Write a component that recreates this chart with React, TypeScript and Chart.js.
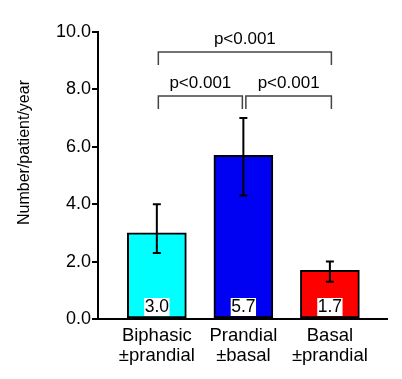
import React, { useEffect, useRef } from "react";
import { Chart, registerables } from "chart.js";

Chart.register(...registerables);

const categories = [["Biphasic", "±prandial"], ["Prandial", "±basal"], ["Basal", "±prandial"]];
const values = [3.0, 5.7, 1.7];
const errLow = [2.3, 4.3, 1.3];
const errHigh = [4.0, 7.0, 2.0];
const barColors = ["#00FFFF", "#0000F2", "#FF0000"];
const valueLabels = ["3.0", "5.7", "1.7"];
const yTicks = [0, 2, 4, 6, 8, 10];
const brackets = [
  { from: 0, to: 2, y: 9.3, label: "p<0.001" },
  { from: 0, to: 1, y: 7.77, label: "p<0.001" },
  { from: 1, to: 2, y: 7.77, label: "p<0.001" },
];
const yTitle = "Number/patient/year";

const FONT = "'Liberation Sans', Arial, Helvetica, sans-serif";

const overlayPlugin = {
  id: "overlay",
  afterDatasetsDraw(chart: any) {
    const ctx = chart.ctx;
    const xs = chart.scales.x;
    const ys = chart.scales.y;
    ctx.save();
    // error bars
    ctx.strokeStyle = "#000";
    ctx.lineWidth = 2;
    values.forEach((_, i) => {
      const x = xs.getPixelForValue(i);
      const y1 = ys.getPixelForValue(errLow[i]);
      const y2 = ys.getPixelForValue(errHigh[i]);
      ctx.beginPath();
      ctx.moveTo(x, y1);
      ctx.lineTo(x, y2);
      ctx.moveTo(x - 4, y1);
      ctx.lineTo(x + 4, y1);
      ctx.moveTo(x - 4, y2);
      ctx.lineTo(x + 4, y2);
      ctx.stroke();
    });
    // value labels
    ctx.font = `17.5px ${FONT}`;
    ctx.textAlign = "center";
    ctx.textBaseline = "middle";
    valueLabels.forEach((t, i) => {
      const x = xs.getPixelForValue(i);
      const yb = ys.getPixelForValue(0);
      const w = ctx.measureText(t).width + 1;
      ctx.fillStyle = "#fff";
      ctx.fillRect(x - w / 2, yb - 21, w, 18);
      ctx.fillStyle = "#000";
      ctx.fillText(t, x, yb - 12);
    });
    // brackets
    ctx.strokeStyle = "#444";
    ctx.lineWidth = 1.5;
    brackets.forEach((b) => {
      let x1 = xs.getPixelForValue(b.from) + 1.5;
      let x2 = xs.getPixelForValue(b.to) + 1.5;
      if (b.to - b.from === 1 && b.to === 1) x2 -= 2.5;
      if (b.to - b.from === 1 && b.from === 1) x1 += 1;
      const y = ys.getPixelForValue(b.y);
      ctx.beginPath();
      ctx.moveTo(x1, y + 13);
      ctx.lineTo(x1, y);
      ctx.lineTo(x2, y);
      ctx.lineTo(x2, y + 13);
      ctx.stroke();
      ctx.fillStyle = "#000";
      ctx.font = `17px ${FONT}`;
      ctx.textAlign = "center";
      ctx.textBaseline = "middle";
      ctx.fillText(b.label, (x1 + x2) / 2, y - 13);
    });
    // y title
    ctx.translate(25, 152.5);
    ctx.rotate(-Math.PI / 2);
    ctx.font = `16px ${FONT}`;
    ctx.fillStyle = "#000";
    ctx.fillText(yTitle, 0, 0);
    ctx.restore();
  },
};

export default function App() {
  const ref = useRef<HTMLCanvasElement>(null);
  useEffect(() => {
    document.body.style.margin = "0";
    const chart = new Chart(ref.current as HTMLCanvasElement, {
      type: "bar",
      data: {
        datasets: [
          {
            data: values.map((v, i) => ({ x: i, y: v })),
            backgroundColor: barColors,
            borderColor: "#000",
            borderWidth: 2,
            borderSkipped: false,
            barThickness: 59,
          },
        ],
      },
      options: {
        animation: false,
        responsive: false,
        layout: { padding: { top: 32, right: 15, left: 0, bottom: 0 } },
        plugins: { legend: { display: false }, tooltip: { enabled: false } },
        scales: {
          x: {
            type: "linear",
            min: -0.68,
            max: 2.66,
            offset: false,
            grace: 0,
            bounds: "ticks",
            afterFit: (s: any) => {
              s.height = 60;
            },
            afterBuildTicks: (s: any) => {
              s.ticks = categories.map((_, i) => ({ value: i }));
            },
            grid: { display: false, drawTicks: false, tickLength: 0 },
            border: { display: true, color: "#000", width: 2 },
            ticks: {
              color: "#000",
              padding: 7,
              maxRotation: 0,
              autoSkip: false,
              font: { family: FONT, size: 18.5, lineHeight: 1.08 },
              callback: (v: any) => categories[Math.round(Number(v))] ?? "",
            },
          },
          y: {
            min: 0,
            max: 10,
            afterFit: (s: any) => {
              s.width = 98;
            },
            afterBuildTicks: (s: any) => {
              s.ticks = yTicks.map((v) => ({ value: v }));
            },
            grid: {
              display: true,
              drawOnChartArea: false,
              drawTicks: true,
              tickLength: 6,
              color: "#000",
              lineWidth: 2,
            },
            border: { display: true, color: "#000", width: 2 },
            ticks: {
              color: "#000",
              padding: 1,
              font: { family: FONT, size: 18 },
              callback: (v: any) => Number(v).toFixed(1),
            },
          },
        },
      },
      plugins: [overlayPlugin],
    });
    return () => chart.destroy();
  }, []);
  return (
    <div style={{ width: 402, height: 379, position: "relative", background: "#fff" }}>
      <canvas ref={ref} width={402} height={379} style={{ display: "block" }} />
    </div>
  );
}
